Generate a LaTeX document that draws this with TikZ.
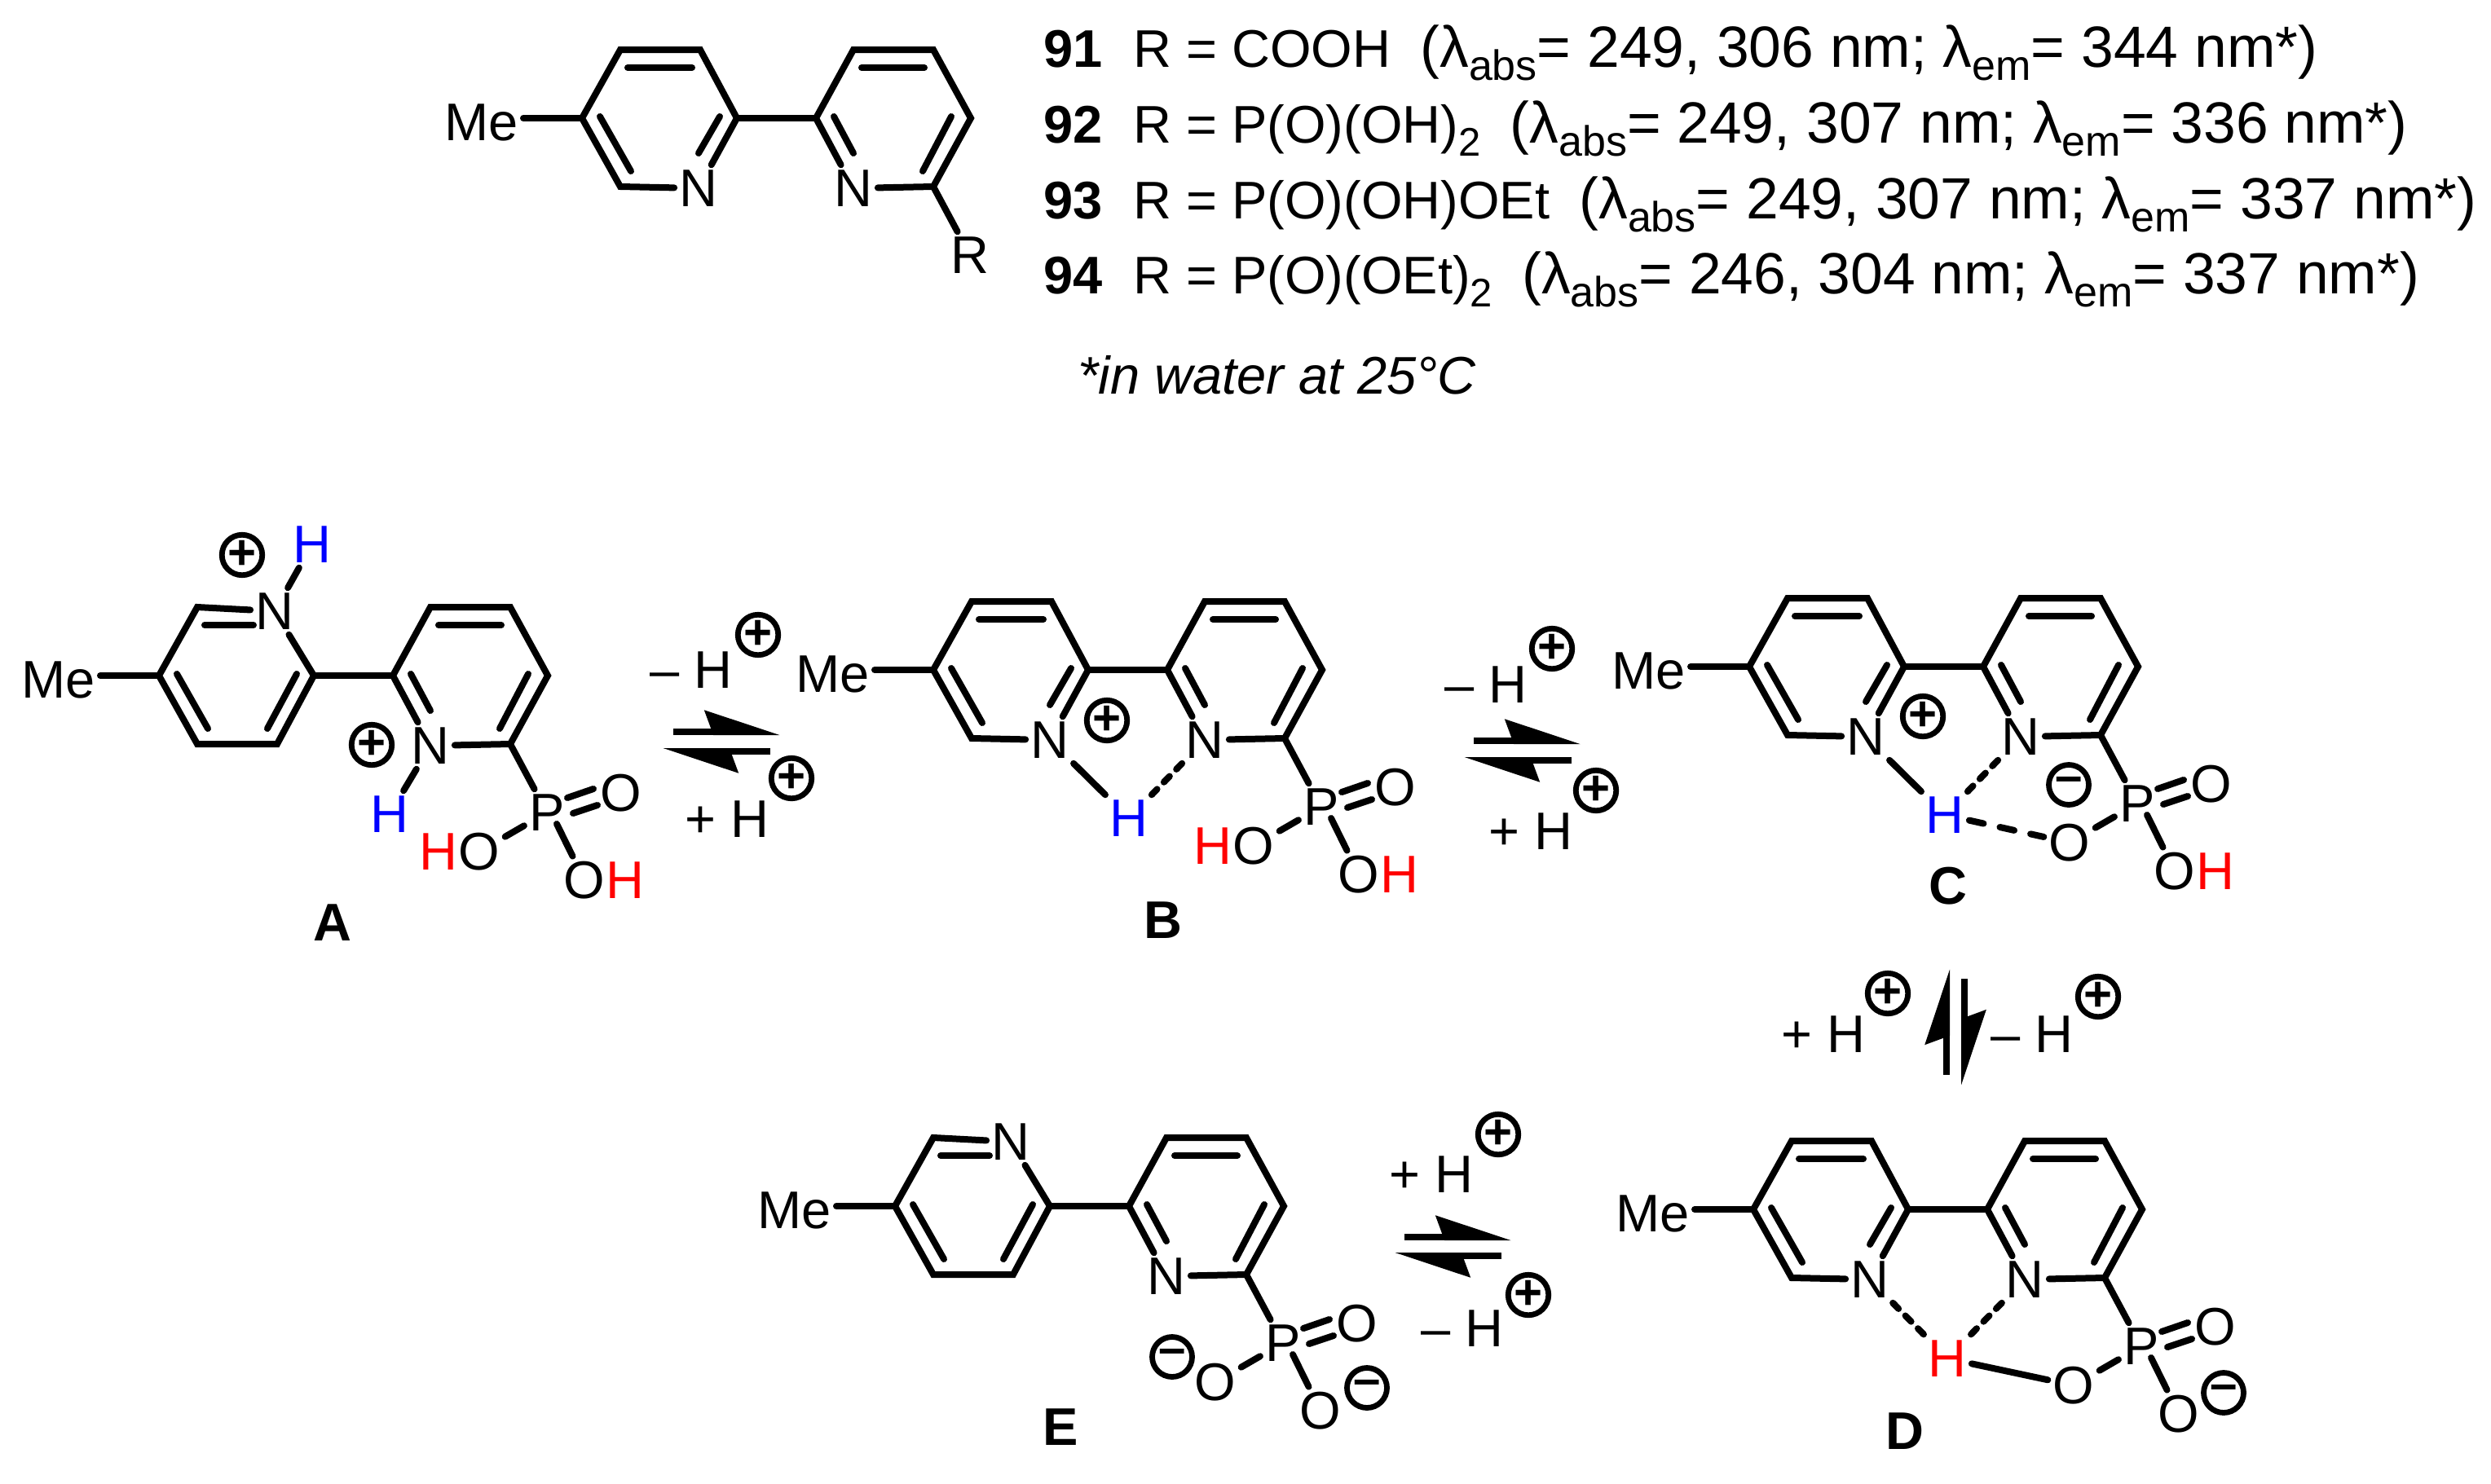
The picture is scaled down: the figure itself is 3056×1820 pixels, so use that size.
\documentclass[tikz,border=0pt]{standalone}
\usepackage{fontspec}
\setmainfont{Liberation Sans}
\usetikzlibrary{arrows.meta}

\newcommand{\atomfont}{\fontsize{32.5}{36}\selectfont}
\newcommand{\chgfont}{\fontsize{30}{30}\selectfont\bfseries}
\newcommand{\lsub}[1]{\raisebox{-8pt}{\fontsize{24.5}{26}\selectfont #1}}
\newcommand{\lamsub}[1]{λ\raisebox{-8pt}{\fontsize{26}{26}\selectfont #1}}
\newcommand{\bracefont}{\fontsize{35.7}{36}\selectfont}

% free inner line of a double bond
\newcommand{\innerbond}[5]{
    \coordinate (#1s) at (#2,#3);
    \coordinate (#1e) at (#4,#5);
    \draw[bond] (#1s) -- (#1e);
}
% the part that all six bipyridines share
\newcommand{\bipycore}{
    \coordinate (a0) at (0,0);
    \coordinate (a1) at (47,-84);
    \coordinate (a2) at (145,-84);
    \coordinate (a3) at (190,0);
    \coordinate (a4) at (145,84);
    \coordinate (a5) at (47,84);
    \coordinate (b0) at (287,0);
    \coordinate (b1) at (333,-84);
    \coordinate (b2) at (431,-84);
    \coordinate (b3) at (477,0);
    \coordinate (b4) at (431,84);
    \node[atom, anchor=base east] (me) at (-72,27) {Me};
    \node[atom] (nb) at (333,86) {N};
    \draw[bond] (nb) -- (b0) -- (b1) -- (b2) -- (b3) -- (b4) -- (nb);
    \draw[bond] (a3) -- (b0);
    \draw[bond] (me.east |- a0) -- (a0);
    \innerbond{ib1}{343}{-62}{420}{-62}
    \innerbond{ib2}{309}{-2}{333}{43}
    \innerbond{ib3}{453}{-2}{418}{65}
    \innerbond{ia1}{22}{-2}{60}{65}
}
\newcommand{\ringNdown}{
    \node[atom] (na) at (143,86) {N};
    \draw[bond] (na) -- (a5) -- (a0) -- (a1) -- (a2) -- (a3) -- (na);
    \innerbond{ia2}{56}{-62}{135}{-62}
    \innerbond{ia3}{169}{-2}{143}{43}
}
\newcommand{\ringNup}{
    \node[atom] (na) at (142,-79) {N};
    \draw[bond] (na) -- (a1) -- (a0) -- (a5) -- (a4) -- (a3) -- (na);
    \innerbond{ia2}{56}{-62}{116}{-62}
    \innerbond{ia3}{169}{-2}{133}{65}
}
\newcommand{\phosgroup}{
    \node[atom] (P) at (476,168) {P};
    \node[atom] (Od) at (567,144) {O};
    \node[atom] (Ol) at (393,216) {O};
    \node[atom] (Or) at (522,251) {O};
    \coordinate (Pr) at (488,182);
    \draw[bond] (b4) -- (P);
    \draw[bond] (P) -- (Ol);
    \draw[bond] (Pr) -- (Or);
    \innerbond{dO1}{501}{150}{533}{139}
    \innerbond{dO2}{508}{169}{538}{159}
}

\begin{document}
\begin{tikzpicture}[
    x=0.5pt, y=-0.5pt,
    every node/.style={inner sep=3pt, font=\atomfont},
    atom/.style={},
    blueh/.style={text=blue},
    redh/.style={text=red},
    bond/.style={line width=4pt, line cap=round, line join=miter},
    hdash/.style={bond, dash pattern=on 5pt off 6pt},
    hdashlong/.style={bond, dash pattern=on 9pt off 10.25pt},
    pluschg/.style={circle, draw, line width=3.4pt, minimum size=24.5pt, inner sep=0pt, font=\chgfont},
    txtline/.style={anchor=base west, inner sep=0pt},
    rxn/.style={anchor=base east, inner sep=0pt},
    mollabel/.style={font=\atomfont\bfseries, inner sep=0pt},
    eqhalf/.style={line width=4pt, -{Stealth[harpoon, length=40pt, width=26pt, inset=4.5pt]}}
]
\useasboundingbox (0,0) rectangle (3056,1820);

% compounds with text
\begin{scope}[shift={(714,145)}, name prefix=top-]
    \bipycore
    \ringNdown
    \node[atom] (R) at (476,168) {R};
    \draw[bond] (b4) -- (R);
\end{scope}
\node[txtline] (num91) at (1280,82) {\textbf{91}};
\node[txtline] (num92) at (1280,175) {\textbf{92}};
\node[txtline] (num93) at (1280,268) {\textbf{93}};
\node[txtline] (num94) at (1280,360) {\textbf{94}};
\node[txtline] (txt91) at (1390,82) {R = COOH\ \ {\bracefont (\lamsub{abs}= 249, 306 nm; \lamsub{em}= 344 nm*)}};
\node[txtline] (txt92) at (1390,175) {R = P(O)(OH)\lsub{2}\ \ {\bracefont (\lamsub{abs}= 249, 307 nm; \lamsub{em}= 336 nm*)}};
\node[txtline] (txt93) at (1390,268) {R = P(O)(OH)OEt\ \ {\bracefont (\lamsub{abs}= 249, 307 nm; \lamsub{em}= 337 nm*)}};
\node[txtline] (txt94) at (1390,360) {R = P(O)(OEt)\lsub{2}\ \ {\bracefont (\lamsub{abs}= 246, 304 nm; \lamsub{em}= 337 nm*)}};
\node[txtline] (note) at (1322,483) {\itshape *in water at 25°C};

% A
\begin{scope}[shift={(195,829)}, name prefix=A-]
    \bipycore
    \ringNup
    \phosgroup
    \node[atom, blueh] (H1) at (188,-161) {H};
    \node[atom, blueh] (H2) at (283,170) {H};
    \node[atom, redh] (Hl) at (343,216) {H};
    \node[atom, redh] (Hr) at (572,251) {H};
    \node[pluschg] (c1) at (102,-148) {+};
    \node[pluschg] (c2) at (261,85) {+};
    \draw[bond] (na) -- (H1);
    \draw[bond] (nb) -- (H2);
\end{scope}
\node[mollabel] (labA) at (408,1132) {A};

% B
\begin{scope}[shift={(1145,822)}, name prefix=B-]
    \bipycore
    \ringNdown
    \phosgroup
    \node[atom, blueh] (Hm) at (240,182) {H};
    \node[atom, redh] (Hl) at (343,216) {H};
    \node[atom, redh] (Hr) at (572,251) {H};
    \node[pluschg] (c1) at (213,62) {+};
    \draw[bond] (na) -- (Hm);
    \draw[hdash] (nb) -- (Hm);
\end{scope}
\node[mollabel] (labB) at (1427,1129) {B};

% C
\begin{scope}[shift={(2146,818)}, name prefix=C-]
    \bipycore
    \ringNdown
    \phosgroup
    \node[atom, blueh] (Hm) at (240,182) {H};
    \node[atom, redh] (Hr) at (572,251) {H};
    \node[pluschg] (c1) at (213,61) {+};
    \node[pluschg] (c2) at (392,145) {–};
    \draw[bond] (na) -- (Hm);
    \draw[hdash] (nb) -- (Hm);
    \draw[hdashlong] (Hm) -- (Ol);
\end{scope}
\node[mollabel] (labC) at (2390,1087) {C};

% D
\begin{scope}[shift={(2151,1484)}, name prefix=D-]
    \bipycore
    \ringNdown
    \phosgroup
    \node[atom, redh] (Hm) at (238,183) {H};
    \node[pluschg] (c1) at (577,225) {–};
    \draw[hdash] (na) -- (Hm);
    \draw[hdash] (nb) -- (Hm);
    \draw[bond] (Hm) -- (Ol);
\end{scope}
\node[mollabel] (labD) at (2337,1756) {D};

% E
\begin{scope}[shift={(1098,1480)}, name prefix=E-]
    \bipycore
    \ringNup
    \phosgroup
    \node[pluschg] (c1) at (340,185) {–};
    \node[pluschg] (c2) at (579,223) {–};
\end{scope}
\node[mollabel] (labE) at (1301,1751) {E};

% A <-> B
\coordinate (ab1) at (826,898);
\coordinate (ab2) at (957,898);
\coordinate (ab3) at (945,922);
\coordinate (ab4) at (813,922);
\draw[eqhalf] (ab1) -- (ab2);
\draw[eqhalf] (ab3) -- (ab4);
\node[rxn] (abm) at (899,844) {– H};
\node[pluschg] (abmc) at (930,779) {+};
\node[rxn] (abp) at (944,1027) {+ H};
\node[pluschg] (abpc) at (971,955) {+};

% B <-> C
\coordinate (bc1) at (1808,909);
\coordinate (bc2) at (1939,909);
\coordinate (bc3) at (1928,933);
\coordinate (bc4) at (1796,933);
\draw[eqhalf] (bc1) -- (bc2);
\draw[eqhalf] (bc3) -- (bc4);
\node[rxn] (bcm) at (1874,862) {– H};
\node[pluschg] (bcmc) at (1904,796) {+};
\node[rxn] (bcp) at (1930,1042) {+ H};
\node[pluschg] (bcpc) at (1958,970) {+};

% C <-> D
\coordinate (cd1) at (2388,1319);
\coordinate (cd2) at (2388,1189);
\coordinate (cd3) at (2410,1201);
\coordinate (cd4) at (2410,1332);
\draw[eqhalf] (cd1) -- (cd2);
\draw[eqhalf] (cd3) -- (cd4);
\node[rxn] (cdp) at (2289,1291) {+ H};
\node[pluschg] (cdpc) at (2316,1219) {+};
\node[rxn] (cdm) at (2544,1291) {– H};
\node[pluschg] (cdmc) at (2574,1223) {+};

% E <-> D
\coordinate (ed1) at (1723,1518);
\coordinate (ed2) at (1854,1518);
\coordinate (ed3) at (1842,1541);
\coordinate (ed4) at (1711,1541);
\draw[eqhalf] (ed1) -- (ed2);
\draw[eqhalf] (ed3) -- (ed4);
\node[rxn] (edp) at (1808,1463) {+ H};
\node[pluschg] (edpc) at (1838,1392) {+};
\node[rxn] (edm) at (1845,1652) {– H};
\node[pluschg] (edmc) at (1875,1589) {+};
\end{tikzpicture}
\end{document}
